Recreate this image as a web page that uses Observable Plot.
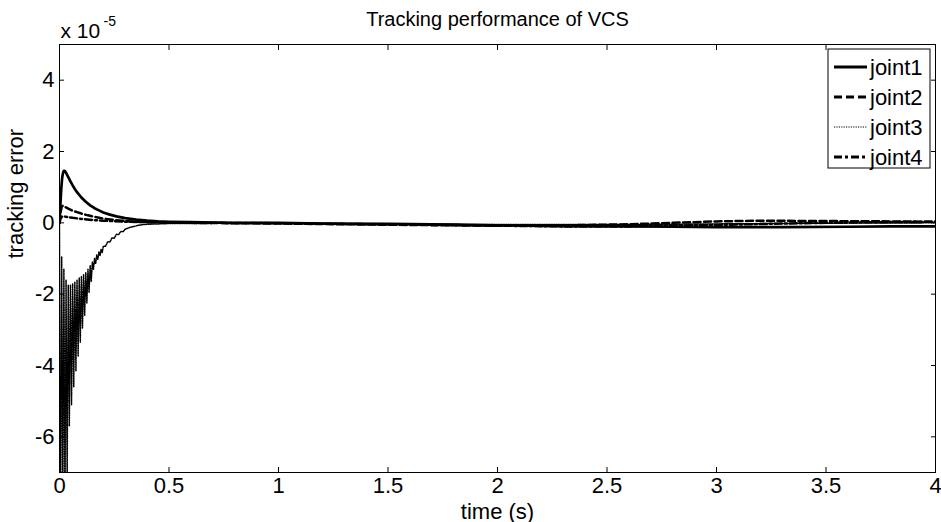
<!DOCTYPE html>
<html>
<head>
<meta charset="utf-8">
<script src="https://cdn.jsdelivr.net/npm/d3@7"></script>
<script src="https://cdn.jsdelivr.net/npm/@observablehq/plot@0.6"></script>
<style>
  html, body { margin: 0; padding: 0; background: #fff; }
  #chart { width: 941px; height: 522px; }
</style>
</head>
<body>
<div id="chart"></div>
<script>
// ---- data (values in units of 1e-5) ----
const xTicks = [0, 0.5, 1, 1.5, 2, 2.5, 3, 3.5, 4];
const yTicks = [-6, -4, -2, 0, 2, 4];
const seriesNames = ["joint1", "joint2", "joint3", "joint4"];

const joint1T = [0, 0.004, 0.008, 0.012, 0.016, 0.02, 0.025, 0.03, 0.04, 0.05, 0.06, 0.07, 0.08, 0.1, 0.12, 0.14, 0.16, 0.18, 0.2, 0.23, 0.26, 0.3, 0.35, 0.4, 0.45, 0.5, 0.6, 0.7, 0.8, 1.0, 1.2, 1.5, 1.8, 2.0, 2.3, 2.6, 2.8, 3.0, 3.3, 3.6, 3.8, 4.0];
const joint1V = [0, 0.5, 0.95, 1.25, 1.4, 1.46, 1.45, 1.4, 1.28, 1.16, 1.05, 0.95, 0.86, 0.71, 0.59, 0.49, 0.41, 0.35, 0.29, 0.23, 0.18, 0.13, 0.09, 0.06, 0.04, 0.03, 0.02, 0.01, 0.0, 0.0, -0.02, -0.03, -0.05, -0.07, -0.09, -0.1, -0.11, -0.12, -0.12, -0.11, -0.1, -0.1];

const joint2T = [0, 0.005, 0.01, 0.015, 0.02, 0.03, 0.04, 0.06, 0.08, 0.1, 0.13, 0.16, 0.2, 0.25, 0.3, 0.35, 0.4, 0.5, 0.6, 0.8, 1.0, 1.3, 1.6, 2.0, 2.3, 2.6, 2.8, 3.0, 3.2, 3.5, 3.8, 4.0];
const joint2V = [0, 0.3, 0.45, 0.48, 0.47, 0.43, 0.4, 0.34, 0.3, 0.26, 0.21, 0.17, 0.12, 0.08, 0.05, 0.03, 0.02, 0.01, 0.0, -0.01, -0.02, -0.04, -0.06, -0.08, -0.07, -0.04, 0.0, 0.04, 0.06, 0.05, 0.04, 0.03];

const joint3T = [0, 0.003, 0.005, 0.01, 0.015, 0.02, 0.025, 0.03, 0.035, 0.04, 0.045, 0.05, 0.055, 0.06, 0.065, 0.07, 0.075, 0.08, 0.085, 0.09, 0.095, 0.1, 0.105, 0.11, 0.115, 0.12, 0.125, 0.13, 0.135, 0.14, 0.145, 0.15, 0.155, 0.16, 0.165, 0.17, 0.175, 0.18, 0.185, 0.19, 0.195, 0.2, 0.21, 0.22, 0.23, 0.24, 0.25, 0.26, 0.27, 0.28, 0.29, 0.3, 0.32, 0.34, 0.36, 0.38, 0.4, 0.45, 0.5, 0.6, 0.8, 1.0, 1.5, 2.0, 2.5, 3.0, 3.5, 4.0];
const joint3V = [0, -8, -8, -0.95, -8, -1.3, -8, -1.6, -7.2, -1.75, -5.7, -1.75, -5.1, -1.7, -4.6, -1.65, -4.15, -1.6, -3.75, -1.55, -3.35, -1.5, -2.95, -1.45, -2.6, -1.4, -2.25, -1.3, -1.95, -1.2, -1.65, -1.1, -1.3, -1.0, -1.15, -0.9, -1.02, -0.82, -0.92, -0.74, -0.83, -0.66, -0.66, -0.53, -0.54, -0.42, -0.43, -0.32, -0.33, -0.24, -0.25, -0.18, -0.13, -0.1, -0.07, -0.05, -0.04, -0.03, -0.02, -0.02, -0.01, -0.01, -0.03, -0.05, -0.05, -0.03, -0.01, 0.0];

const joint4T = [0, 0.005, 0.01, 0.02, 0.04, 0.06, 0.1, 0.15, 0.2, 0.3, 0.4, 0.5, 0.7, 1.0, 1.3, 1.6, 2.0, 2.3, 2.6, 3.0, 3.3, 3.6, 4.0];
const joint4V = [0, 0.12, 0.17, 0.18, 0.16, 0.14, 0.11, 0.08, 0.06, 0.03, 0.02, 0.01, 0.0, -0.01, -0.03, -0.05, -0.08, -0.1, -0.1, -0.06, -0.02, 0.01, 0.03];

// ---- build tables ----
const toRows = (T, V) => T.map((t, i) => ({t, v: V[i]}));
const rows1 = toRows(joint1T, joint1V);
const rows2 = toRows(joint2T, joint2V);
const rows3 = toRows(joint3T, joint3V);
const rows4 = toRows(joint4T, joint4V);

const styles = [
  {strokeWidth: 2.7, strokeDasharray: null},
  {strokeWidth: 2.5, strokeDasharray: "7,3.5"},
  {strokeWidth: 1.5, strokeDasharray: "1.2,1.2"},
  {strokeWidth: 2.5, strokeDasharray: "7,3,2,3"}
];

const fmt = d => String(d);
const font = "'Liberation Sans', Arial, Helvetica, sans-serif";

const chart = Plot.plot({
  width: 941,
  height: 522,
  marginLeft: 59,
  marginRight: 6,
  marginTop: 44,
  marginBottom: 50,
  style: {fontFamily: font, fontSize: "22px", background: "white", color: "black", overflow: "visible"},
  x: {domain: [0, 4]},
  y: {domain: [-7, 5]},
  marks: [
    Plot.line(rows3, {x: "t", y: "v", stroke: "black", clip: true, ...styles[2]}),
    Plot.line(rows4, {x: "t", y: "v", stroke: "black", clip: true, ...styles[3]}),
    Plot.line(rows2, {x: "t", y: "v", stroke: "black", clip: true, ...styles[1]}),
    Plot.line(rows1, {x: "t", y: "v", stroke: "black", clip: true, ...styles[0]}),
    Plot.frame({stroke: "black", strokeWidth: 1}),
    // inward ticks on four sides
    Plot.axisY({anchor: "left", ticks: yTicks, tickSize: 5, dx: 5, fill: "none", label: null}),
    Plot.axisY({anchor: "right", ticks: yTicks, tickSize: 5, dx: -5, fill: "none", label: null}),
    Plot.axisX({anchor: "bottom", ticks: xTicks, tickSize: 5, dy: -5, fill: "none", label: null}),
    Plot.axisX({anchor: "top", ticks: xTicks, tickSize: 5, dy: 5, fill: "none", label: null}),
    // tick labels
    Plot.axisY({anchor: "left", ticks: yTicks, tickSize: 0, tickPadding: 5, tickFormat: fmt, label: null}),
    Plot.axisX({anchor: "bottom", ticks: xTicks, tickSize: 0, tickPadding: 5, tickFormat: fmt, label: null}),
    // titles
    Plot.text(["Tracking performance of VCS"], {text: d => d, frameAnchor: "top", lineAnchor: "middle", dy: -25, fontSize: 20}),
    Plot.text(["time (s)"], {text: d => d, frameAnchor: "bottom", lineAnchor: "middle", dy: 39, fontSize: 22}),
    Plot.text(["tracking error"], {text: d => d, frameAnchor: "left", lineAnchor: "middle", rotate: -90, dx: -44, fontSize: 22}),
    Plot.text(["x 10"], {text: d => d, frameAnchor: "top-left", textAnchor: "start", lineAnchor: "middle", dy: -13, dx: 1, fontSize: 21}),
    Plot.text(["-5"], {text: d => d, frameAnchor: "top-left", textAnchor: "start", lineAnchor: "middle", dy: -23, dx: 44, fontSize: 14})
  ]
});

document.getElementById("chart").appendChild(chart);

// ---- legend (drawn into the same SVG) ----
const svg = d3.select(chart);
const lg = svg.append("g").attr("transform", "translate(828,49)")
  .style("font-family", font).attr("text-anchor", "start");
lg.append("rect").attr("x", 0).attr("y", 0).attr("width", 102).attr("height", 119)
  .attr("fill", "white").attr("stroke", "black").attr("stroke-width", 1);
seriesNames.forEach((name, i) => {
  const y = 18 + i * 30;
  lg.append("line").attr("x1", 6).attr("x2", 39).attr("y1", y).attr("y2", y)
    .attr("stroke", "black").attr("stroke-width", i === 2 ? 1 : 3)
    .attr("stroke-dasharray", i === 1 ? "8,4" : i === 3 ? "8,3,3,3" : styles[i].strokeDasharray);
  lg.append("text").attr("x", 42).attr("y", y).attr("dy", "0.35em")
    .attr("text-anchor", "start")
    .attr("font-size", 22).attr("fill", "black").text(name);
});
</script>
</body>
</html>
